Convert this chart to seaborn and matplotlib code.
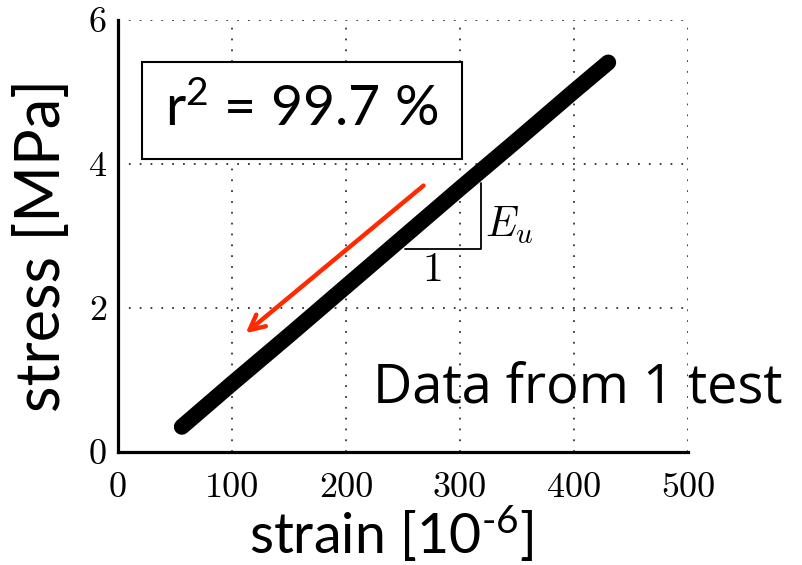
import matplotlib
matplotlib.use("Agg")
import matplotlib.pyplot as plt
import seaborn as sns
import pandas as pd
from matplotlib.patches import Rectangle
from matplotlib.ticker import FuncFormatter

# ---- data ----
strain = [56, 100, 150, 200, 250, 300, 350, 400, 430]
stress = [0.35, 0.95, 1.62, 2.30, 2.98, 3.66, 4.33, 5.01, 5.41]
x_ticks = [0, 100, 200, 300, 400, 500]
y_ticks = [0, 2, 4, 6]
r2_text = "r$^2$ = 99.7 %"
note_text = "Data from 1 test"
x_label = r"strain [10$^{\text{-6}}$]"
y_label = "stress [MPa]"

sns.set_theme(style="white")
plt.rcParams["font.family"] = ["Lato", "DejaVu Sans"]
plt.rcParams["text.color"] = "black"
plt.rcParams["axes.labelcolor"] = "black"
plt.rcParams["mathtext.fontset"] = "custom"
plt.rcParams["mathtext.rm"] = "Lato"
plt.rcParams["mathtext.it"] = "Lato"

fig = plt.figure(figsize=(8.02, 5.65), dpi=100)
ax = fig.add_axes([118 / 802, 113 / 565, 570 / 802, 432 / 565])

df = pd.DataFrame({"strain": strain, "stress": stress})
sns.lineplot(data=df, x="strain", y="stress", ax=ax, color="black", lw=11.5,
             solid_capstyle="round", zorder=5, legend=False)

ax.set_xlim(0, 500)
ax.set_ylim(0, 6)
ax.set_xticks(x_ticks)
ax.set_yticks(y_ticks)
ax.set_xlabel("")
ax.set_ylabel("")

ax.xaxis.set_major_formatter(FuncFormatter(lambda v, p: f"{int(v)}"))
ax.yaxis.set_major_formatter(FuncFormatter(lambda v, p: f"{int(v)}"))
ax.tick_params(axis="both", direction="in", length=5, width=2, colors="black",
               labelsize=26, labelcolor="black")
for lab in ax.get_xticklabels() + ax.get_yticklabels():
    lab.set_fontfamily("cmr10")
    lab.set_fontsize(26)
ax.tick_params(axis="x", pad=15)
ax.tick_params(axis="y", pad=8)

for s in ["top", "right"]:
    ax.spines[s].set_visible(False)
for s in ["left", "bottom"]:
    ax.spines[s].set_linewidth(2.3)
    ax.spines[s].set_color("black")

ax.grid(True, linestyle=(0, (1, 5)), color="#333333", lw=1.3)
ax.set_axisbelow(True)

# axis labels
fig.text(391 / 802, 1 - 534 / 565, x_label, fontsize=40, ha="center",
         va="center", color="black")
fig.text(43 / 802, 1 - 245 / 565, y_label, fontsize=44, ha="center",
         va="center", rotation=90, color="black")

# r^2 box
ax.add_patch(Rectangle((21, 4.07), 281, 1.35, fill=True, facecolor="white",
                       edgecolor="black", lw=1.5, zorder=6, clip_on=False))
ax.text(161.5, 4.75, r2_text, fontsize=40, ha="center", va="center", zorder=7,
        color="black")

# slope triangle
ax.plot([252, 318.4, 318.4], [2.82, 2.82, 3.74], color="black", lw=1.3, zorder=6)
ax.text(322, 3.15, r"$E_u$", fontsize=30, ha="left", va="center",
        math_fontfamily="cm", zorder=7, color="black")
ax.text(276, 2.52, "1", fontsize=30, ha="center", va="center",
        family="cmr10", zorder=7, color="black")

# red arrow
ax.annotate("", xy=(112, 1.65), xytext=(268, 3.7),
            arrowprops=dict(arrowstyle="->,head_length=0.9,head_width=0.45",
                            color="#ff2a00", lw=3.2, shrinkA=0, shrinkB=0),
            zorder=8)

fig.text(373 / 802, 1 - 388 / 565, note_text, fontsize=39, ha="left", va="center",
         family=["Open Sans", "DejaVu Sans"], color="black")

fig.savefig("out.png", dpi=100)
